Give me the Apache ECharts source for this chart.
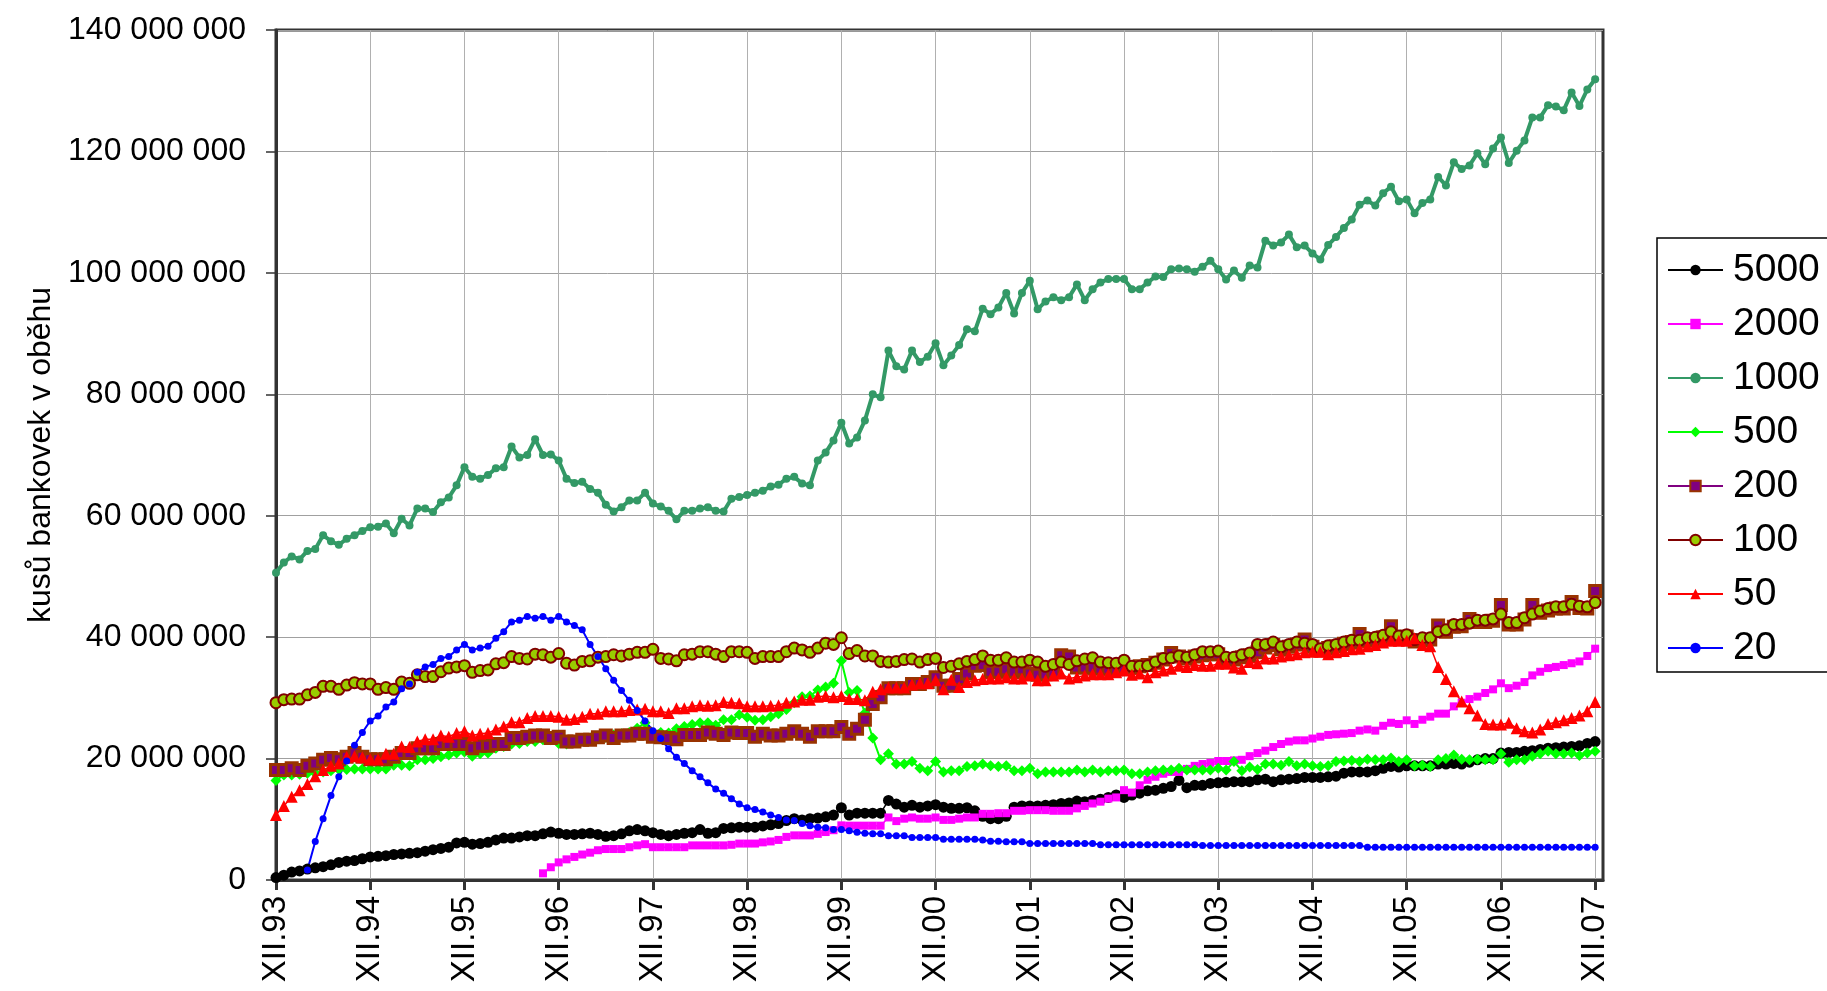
<!DOCTYPE html>
<html>
<head>
<meta charset="utf-8">
<script src="https://cdn.jsdelivr.net/npm/echarts@6/dist/echarts.min.js"></script>
<style>
  html, body { margin: 0; padding: 0; background: #fff; }
  #main { width: 1827px; height: 991px; }
</style>
</head>
<body>
<div id="main"></div>
<script>
// hodnoty v milionech kusů, měsíčně od XII.93 do XII.07
var s5000 = [0.4,0.8,1.3,1.5,1.8,2.0,2.2,2.5,2.9,3.1,3.2,3.5,3.8,3.9,4.0,4.2,4.3,4.4,4.5,4.75,5.0,5.2,5.4,6.1,6.2,5.9,6.0,6.2,6.6,6.9,6.9,7.1,7.3,7.3,7.6,7.9,7.7,7.5,7.5,7.6,7.7,7.5,7.2,7.3,7.6,8.1,8.3,8.1,7.8,7.5,7.3,7.5,7.7,7.8,8.3,7.7,7.8,8.5,8.6,8.7,8.7,8.7,8.9,9.1,9.3,9.8,10.1,9.9,10.1,10.2,10.4,10.7,11.9,10.7,11.0,11.0,11.0,11.0,13.1,12.5,12.0,12.3,12.0,12.2,12.4,12.0,11.8,11.8,11.9,11.4,10.5,10.1,10.1,10.5,12.0,12.2,12.2,12.2,12.3,12.4,12.6,12.7,13.0,12.9,13.1,13.3,13.6,14.0,13.6,14.0,14.3,14.7,14.8,15.1,15.4,16.4,15.2,15.6,15.6,15.9,16.0,16.1,16.2,16.2,16.2,16.5,16.6,16.2,16.5,16.6,16.7,16.9,16.9,16.9,17.0,17.1,17.6,17.8,17.8,17.8,18.0,18.4,18.7,18.6,18.8,18.8,18.8,18.8,19.1,19.1,19.2,19.1,19.4,19.8,20.0,20.0,20.9,21.0,21.0,21.2,21.3,21.5,21.7,21.8,21.9,22.0,22.1,22.5,22.8];

var s2000 = [null,null,null,null,null,null,null,null,null,null,null,null,null,null,null,null,null,null,null,null,null,null,null,null,null,null,null,null,null,null,null,null,null,null,1.1,2.1,2.9,3.4,3.8,4.2,4.5,4.9,5.1,5.1,5.1,5.4,5.7,5.9,5.4,5.4,5.4,5.4,5.4,5.7,5.7,5.7,5.7,5.7,5.8,6.0,6.0,6.0,6.2,6.35,6.6,7.1,7.35,7.35,7.35,7.6,7.9,8.2,9.0,8.95,8.95,8.95,8.95,8.95,10.3,9.7,10.1,10.3,10.1,10.1,10.3,9.9,9.9,10.1,10.3,10.3,10.9,10.9,11.0,11.0,11.4,11.4,11.5,11.5,11.5,11.4,11.4,11.4,11.8,12.2,12.6,12.9,13.4,13.6,14.8,14.4,15.6,16.5,17.0,17.5,17.8,17.8,18.3,18.8,19.1,19.3,19.6,19.6,19.7,19.8,20.4,20.9,21.3,21.9,22.4,22.8,23.0,23.0,23.3,23.6,23.9,24.0,24.1,24.2,24.6,24.8,24.6,25.4,25.9,25.7,26.3,25.7,26.4,26.9,27.4,27.4,28.6,29.2,29.8,30.2,30.8,31.4,32.4,31.6,32.0,32.6,33.7,34.3,34.9,35.1,35.4,35.7,36.0,36.9,38.1];

var s1000 = [50.6,52.3,53.3,52.8,54.2,54.5,56.8,55.8,55.2,56.2,56.8,57.5,58.1,58.2,58.7,57.1,59.5,58.4,61.2,61.2,60.6,62.2,63.0,65.0,68.0,66.4,66.1,66.7,67.8,68.0,71.4,69.6,70.0,72.6,70.0,70.1,69.1,66.1,65.4,65.6,64.4,63.8,61.8,60.7,61.4,62.5,62.5,63.8,62.0,61.5,60.8,59.4,60.8,60.8,61.2,61.4,60.8,60.7,62.8,63.1,63.4,63.8,64.1,64.8,65.1,66.1,66.4,65.3,65.0,69.1,70.4,72.4,75.3,71.9,72.9,75.7,80.0,79.5,87.2,84.6,84.1,87.2,85.3,86.2,88.4,84.8,86.4,88.1,90.7,90.4,94.1,93.2,94.3,96.7,93.3,96.7,98.7,94.0,95.3,96.0,95.5,96.0,98.1,95.5,97.3,98.4,99.0,99.0,99.0,97.3,97.3,98.4,99.4,99.3,100.6,100.7,100.6,100.2,101.0,102.0,100.6,98.9,100.4,99.2,101.2,100.9,105.3,104.5,105.0,106.3,104.2,104.5,103.2,102.2,104.6,105.9,107.4,108.8,111.2,111.9,111.1,113.1,114.2,111.8,112.1,109.8,111.5,112.1,115.8,114.4,118.2,117.1,117.7,119.7,117.9,120.5,122.3,118.1,120.1,121.8,125.6,125.6,127.6,127.4,126.8,129.7,127.5,130.2,131.9];

var s500 = [16.4,17.3,17.3,17.4,17.6,17.6,17.8,18.0,18.2,18.2,18.3,18.3,18.3,18.3,18.3,18.9,18.9,18.8,19.8,19.8,20.0,20.3,20.6,20.9,21.1,20.4,20.8,20.9,21.7,22.0,22.4,22.5,22.8,22.8,23.1,23.1,22.5,22.4,23.0,23.2,23.4,23.4,23.5,23.9,24.1,24.3,25.0,25.9,24.2,24.3,24.2,24.9,25.3,25.6,25.9,25.9,25.5,26.4,26.4,27.2,26.8,26.3,26.4,26.9,27.4,28.1,29.2,30.2,30.3,31.3,31.8,32.4,36.1,30.9,31.2,27.5,23.4,19.8,20.8,19.1,19.1,19.5,18.4,18.0,19.5,17.8,18.0,18.0,18.7,18.8,19.1,18.8,18.7,18.8,18.0,18.0,18.4,17.5,17.8,17.8,17.8,17.8,18.1,17.8,18.1,17.8,18.0,18.0,18.1,17.5,17.5,17.8,18.0,18.1,18.1,18.4,18.1,18.1,18.1,18.1,18.4,18.1,19.5,18.0,18.6,18.2,19.1,19.1,18.9,19.5,18.8,19.1,18.8,18.7,18.8,19.5,19.6,19.7,19.5,19.9,19.8,19.8,20.1,19.5,19.8,18.8,18.9,18.7,19.8,20.0,20.6,19.9,19.8,19.9,19.8,19.8,20.8,19.4,19.8,19.8,20.4,20.8,21.2,20.8,20.8,20.9,20.5,20.9,21.2];

var s200 = [18.1,18.1,18.4,18.1,18.8,19.2,19.8,20.1,19.9,20.3,20.9,20.3,19.9,19.9,19.9,20.3,20.9,20.9,21.7,21.7,21.7,22.4,22.4,22.4,22.4,21.7,22.1,22.1,22.4,22.4,23.4,23.4,23.6,23.8,23.8,23.4,23.6,22.8,22.8,23.1,23.1,23.5,23.8,23.4,23.8,23.8,24.1,24.1,23.6,23.5,23.4,23.2,23.9,23.9,23.9,24.3,24.1,23.9,24.3,24.2,24.2,23.6,24.1,23.8,23.8,24.1,24.5,24.1,23.6,24.5,24.5,24.5,25.2,24.1,24.9,26.4,29.0,30.1,31.6,31.6,31.6,32.3,32.3,32.6,33.4,32.0,32.0,33.1,34.0,35.3,35.4,34.3,34.3,34.7,34.3,34.7,34.0,33.8,33.9,34.2,37.0,36.8,35.0,35.0,35.0,34.8,34.8,34.7,35.0,35.0,35.2,35.4,35.8,36.3,37.4,36.8,36.5,36.8,37.0,37.2,37.2,36.4,36.3,36.7,37.0,37.5,38.3,38.7,38.0,38.4,38.8,39.6,38.4,37.8,38.2,38.5,38.9,39.2,40.5,39.5,39.6,40.0,41.8,39.9,40.1,39.3,39.5,39.6,41.9,40.9,41.7,41.8,43.0,42.5,42.5,42.7,45.3,42.1,42.1,42.9,45.3,44.0,44.4,44.7,44.7,45.8,44.8,44.7,47.6];

var s100 = [29.2,29.7,29.8,29.8,30.5,30.9,31.9,31.9,31.4,32.1,32.5,32.3,32.3,31.4,31.7,31.4,32.6,32.4,33.8,33.5,33.5,34.3,34.9,35.1,35.3,34.2,34.5,34.6,35.6,35.8,36.8,36.5,36.4,37.2,37.1,36.7,37.3,35.7,35.4,36.0,36.1,36.7,36.8,37.1,36.9,37.2,37.5,37.5,38.0,36.5,36.4,36.1,37.1,37.2,37.6,37.6,37.2,36.8,37.6,37.6,37.5,36.5,36.8,36.8,36.8,37.6,38.2,37.9,37.5,38.2,39.0,38.8,39.9,37.3,37.8,36.9,36.9,36.0,35.9,36.0,36.3,36.4,35.9,36.3,36.5,35.0,35.2,35.6,36.0,36.3,36.9,36.2,36.2,36.6,35.9,35.9,36.2,35.9,35.2,35.5,35.9,35.5,36.1,36.4,36.6,35.9,35.8,35.7,36.2,35.2,35.2,35.3,35.9,36.5,36.6,36.9,36.7,37.1,37.6,37.6,37.7,36.7,36.7,37.1,37.4,38.8,38.8,39.2,38.4,38.8,39.2,39.0,38.8,38.1,38.6,38.8,39.2,39.5,39.5,39.9,40.0,40.3,40.9,40.2,40.4,39.6,39.9,39.9,40.9,41.2,42.1,42.1,42.3,42.8,42.8,43.0,43.8,42.4,42.4,43.2,43.8,44.3,44.7,45.0,45.0,45.4,45.1,45.0,45.7];

var s50 = [10.7,12.2,13.7,14.8,15.8,17.1,18.1,18.8,19.2,20.3,20.4,20.2,19.9,19.9,20.8,20.8,22.0,21.9,22.8,23.2,23.2,23.8,23.6,24.2,24.5,23.8,24.1,24.2,24.8,25.3,26.0,26.0,26.7,27.0,27.0,27.0,26.9,26.4,26.5,26.9,27.4,27.4,27.8,27.8,27.8,28.0,28.1,28.2,27.8,27.8,27.5,28.3,28.3,28.6,28.8,28.7,28.8,29.3,29.2,29.1,28.6,28.6,28.6,28.7,28.8,29.2,29.4,29.7,29.7,30.2,30.3,30.1,30.3,29.8,29.8,29.6,31.0,31.4,31.7,31.7,31.7,32.2,32.4,32.4,32.9,31.4,33.0,31.8,32.6,32.9,33.1,33.2,33.2,33.4,33.2,33.2,33.7,32.9,32.9,33.7,34.0,33.2,33.4,33.7,33.9,33.9,33.9,34.2,34.5,33.8,34.0,33.4,34.2,34.5,34.8,35.3,35.1,35.4,35.3,35.3,35.6,35.6,35.0,34.8,35.9,35.7,36.5,36.5,36.8,37.0,37.2,37.5,37.6,37.6,37.2,37.5,37.7,38.0,38.1,38.5,38.7,39.1,39.4,39.4,39.4,39.8,38.7,38.5,35.1,33.1,31.1,29.4,28.3,27.1,25.7,25.6,25.6,25.9,25.0,24.5,24.3,24.8,25.7,26.0,26.3,26.7,27.1,27.8,29.3];

var s20 = [null,null,null,null,1.66,6.35,10.1,13.9,17.0,19.6,
    22.2,24.3,26.2,27.0,28.5,29.3,31.5,32.3,34.2,35.1,
    35.5,36.5,36.8,37.9,38.8,37.9,38.2,38.5,39.8,40.9,
    42.5,42.8,43.4,43.1,43.4,42.8,43.4,42.5,41.9,41.2,
    38.8,36.8,34.8,32.9,31.2,29.6,27.9,26.2,24.6,23.3,
    21.6,20.2,19.2,18.0,17.0,16.0,15.0,14.3,13.4,12.5,
    11.9,11.6,11.2,10.7,10.3,9.9,9.8,9.3,8.95,8.7,
    8.6,8.3,8.3,8.1,7.85,7.7,7.6,7.6,7.3,7.3,
    7.3,7.0,7.0,7.0,7.0,6.7,6.7,6.7,6.7,6.7,
    6.6,6.4,6.4,6.3,6.3,6.3,6.0,6.0,6.0,6.0,
    6.0,6.0,6.0,6.0,6.0,5.8,5.8,5.8,5.8,5.8,
    5.8,5.8,5.8,5.8,5.8,5.8,5.8,5.8,5.7,5.7,
    5.7,5.7,5.7,5.7,5.7,5.7,5.7,5.7,5.7,5.7,
    5.7,5.7,5.7,5.7,5.7,5.7,5.7,5.7,5.7,5.4,
    5.4,5.4,5.4,5.4,5.4,5.4,5.4,5.4,5.4,5.4,
    5.4,5.4,5.4,5.4,5.4,5.4,5.4,5.4,5.4,5.4,
    5.4,5.4,5.4,5.4,5.4,5.4,5.4,5.4,5.4];

var yTicks = [0, 20, 40, 60, 80, 100, 120, 140];
var romanMonths = ['I','II','III','IV','V','VI','VII','VIII','IX','X','XI','XII'];

// kategorie: XII.93 ... I.08 (posledni bez dat)
var months = [];
for (var i = 0; i < 170; i++) {
    var m = (11 + i) % 12;
    var y = (93 + Math.floor((11 + i) / 12)) % 100;
    months.push(romanMonths[m] + '.' + (y < 10 ? '0' + y : y));
}
function yearly(idx) { return idx % 12 === 0; }

var myChart = echarts.init(document.getElementById('main'));

var styles = [
    { name: '5000', data: s5000, color: '#000000', symbol: 'circle', size: 11, width: 1.5 },
    { name: '2000', data: s2000, color: '#FF00FF', symbol: 'rect', size: 8, width: 1.5 },
    { name: '1000', data: s1000, color: '#339966', symbol: 'circle', size: 8, width: 4 },
    { name: '500', data: s500, color: '#00FF00', symbol: 'diamond', size: 11, width: 2 },
    { name: '200', data: s200, color: '#800080', symbol: 'rect', size: 11, width: 1.5, fill: '#800080', border: '#993300', bw: 3 },
    { name: '100', data: s100, color: '#800000', symbol: 'circle', size: 11, width: 1.5, fill: '#99CC00', border: '#800000', bw: 2 },
    { name: '50', data: s50, color: '#FF0000', symbol: 'triangle', size: 12, width: 1.5 },
    { name: '20', data: s20, color: '#0000FF', symbol: 'circle', size: 7, width: 2 }
];

var series = styles.map(function (s) {
    return {
        name: s.name,
        type: 'line',
        data: s.data,
        symbol: s.symbol,
        symbolSize: s.size,
        showAllSymbol: true,
        connectNulls: false,
        lineStyle: { color: s.color, width: s.width },
        itemStyle: {
            color: s.fill || s.color,
            borderColor: s.border || s.color,
            borderWidth: s.bw || 0
        },
        emphasis: { disabled: true },
        animation: false
    };
});

option = {
    animation: false,
    backgroundColor: '#ffffff',
    grid: {
        left: 276, right: 224, top: 30, bottom: 111,
        show: true, borderColor: '#333333', borderWidth: 3,
        containLabel: false,
        outerBoundsMode: 'none'
    },
    legend: {
        orient: 'vertical',
        left: 1657, top: 238,
        data: styles.map(function (s) { return s.name; }),
        itemWidth: 55, itemHeight: 13, itemGap: 14,
        padding: [12, 20, 4, 10],
        borderColor: '#000000', borderWidth: 1.5,
        backgroundColor: '#ffffff',
        textStyle: {
            fontSize: 39, fontFamily: 'Liberation Sans, Arial, sans-serif', color: '#000',
            lineHeight: 40, padding: [0, 0, 0, 5]
        }
    },
    xAxis: [{
        type: 'category',
        boundaryGap: false,
        data: months,
        axisLine: { lineStyle: { color: '#333333', width: 3 } },
        axisTick: { interval: function (idx) { return yearly(idx); }, length: 10, lineStyle: { color: '#333333', width: 3 } },
        axisLabel: {
            interval: function (idx) { return yearly(idx); },
            rotate: 90, margin: 16, fontSize: 33, color: '#000',
            fontFamily: 'Liberation Sans, Arial, sans-serif'
        },
        splitLine: { show: true, interval: function (idx) { return yearly(idx); }, lineStyle: { color: '#B0B0B0', width: 1 } }
    }],
    yAxis: [{
        type: 'value',
        min: yTicks[0], max: yTicks[yTicks.length - 1], interval: 20,
        name: 'kusů bankovek v oběhu',
        nameLocation: 'middle', nameRotate: 90, nameGap: 219,
        nameTextStyle: { fontSize: 32, fontFamily: 'Liberation Sans, Arial, sans-serif', color: '#000' },
        axisLine: { show: true, lineStyle: { color: '#333333', width: 3 } },
        axisTick: { show: true, length: 10, lineStyle: { color: '#333333', width: 1.5 } },
        axisLabel: {
            margin: 30, fontSize: 32, color: '#000',
            fontFamily: 'Liberation Sans, Arial, sans-serif',
            formatter: function (v) { return v === 0 ? '0' : v + ' 000 000'; }
        },
        splitLine: { show: true, lineStyle: { color: '#A0A0A0', width: 1 } }
    }],
    series: series
};

myChart.setOption(option);
</script>
</body>
</html>
